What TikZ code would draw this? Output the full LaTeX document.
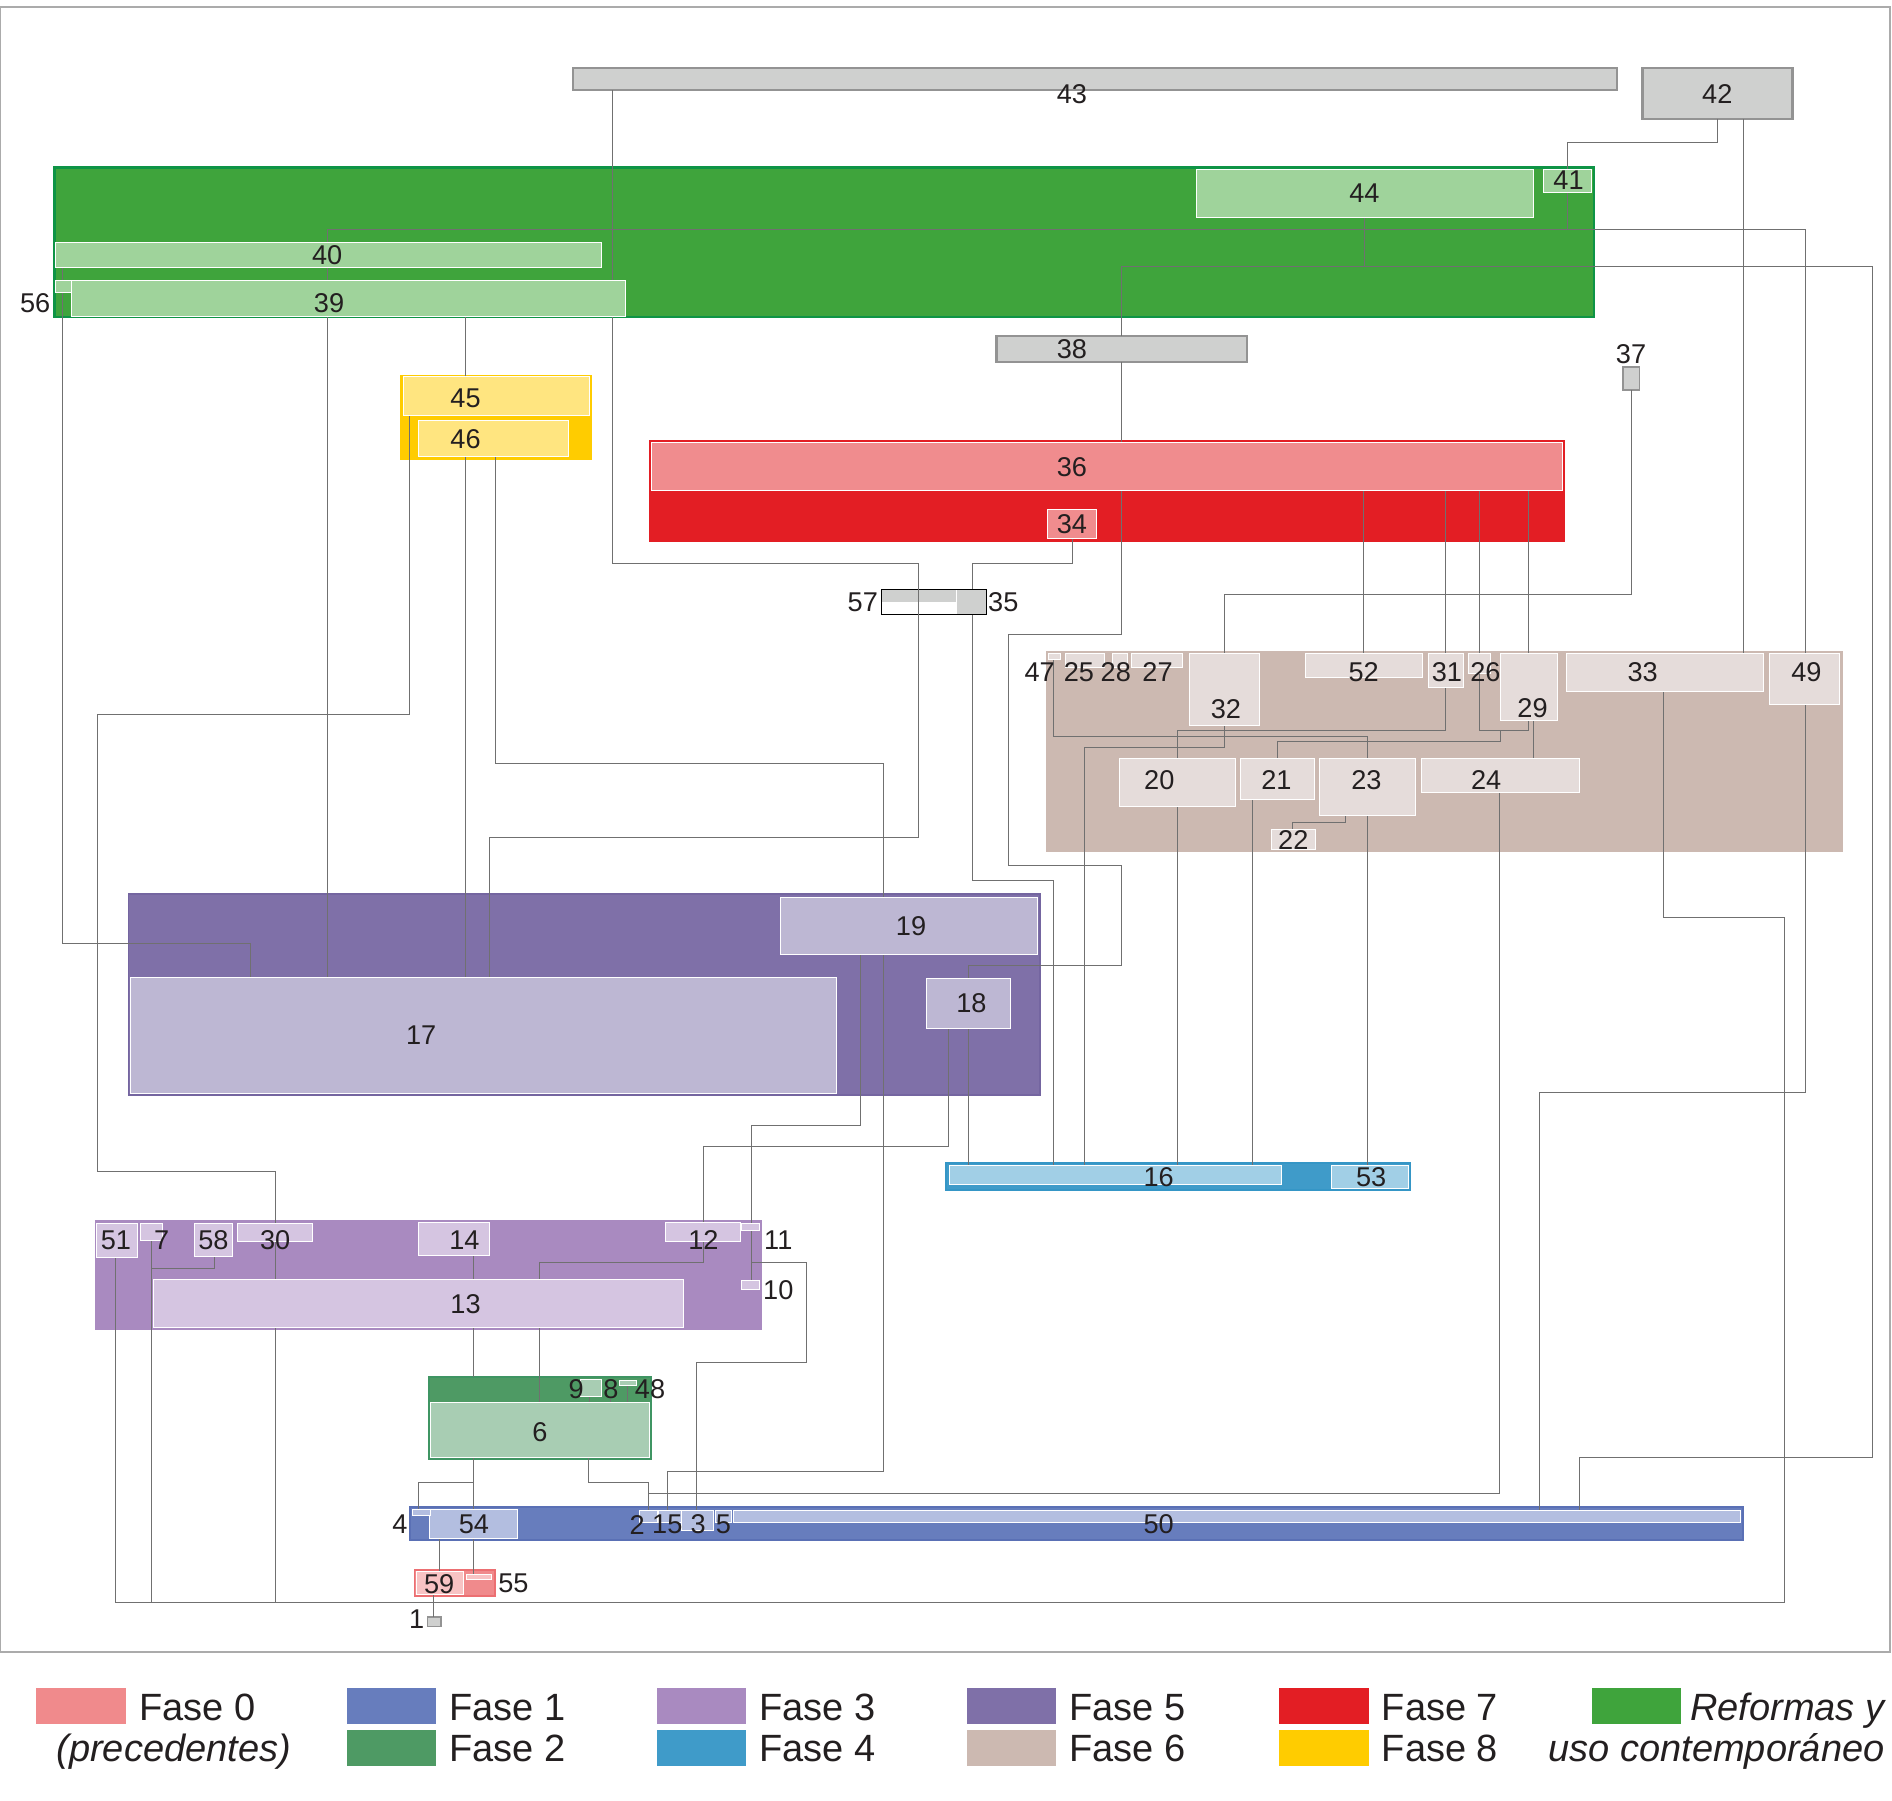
\documentclass[tikz,border=0pt]{standalone}
\usepackage{fontspec}
\setmainfont{Liberation Sans}
\pgfdeclarelayer{outer}
\pgfdeclarelayer{wires}
\pgfsetlayers{outer,wires,main}
\definecolor{cgray}{HTML}{CFD0CF}
\definecolor{cgrayd}{HTML}{939393}
\definecolor{cR}{HTML}{3FA43C}
\definecolor{cRd}{HTML}{0E9446}
\definecolor{cRl}{HTML}{9FD39B}
\definecolor{c8}{HTML}{FFCC00}
\definecolor{c8l}{HTML}{FFE580}
\definecolor{c7}{HTML}{E31E24}
\definecolor{c7l}{HTML}{F08C8E}
\definecolor{c6}{HTML}{CCB9B1}
\definecolor{c6l}{HTML}{E5DCDA}
\definecolor{c5}{HTML}{7F70A8}
\definecolor{c5d}{HTML}{7465A0}
\definecolor{c5l}{HTML}{BDB7D3}
\definecolor{c4}{HTML}{3F9BC9}
\definecolor{c4d}{HTML}{3596C6}
\definecolor{c4l}{HTML}{A1CFE6}
\definecolor{c3}{HTML}{A98AC0}
\definecolor{c3l}{HTML}{D5C5E1}
\definecolor{c2}{HTML}{4E9A64}
\definecolor{c2d}{HTML}{3F9563}
\definecolor{c2l}{HTML}{A8CDB3}
\definecolor{c1}{HTML}{677DBD}
\definecolor{c1d}{HTML}{5A70B5}
\definecolor{c1l}{HTML}{B3BEE0}
\definecolor{c0}{HTML}{F08A8C}
\definecolor{c0d}{HTML}{EC6F72}
\definecolor{c0l}{HTML}{F8C3C4}
\definecolor{cline}{HTML}{707070}
\definecolor{cframe}{HTML}{ABABAB}
\definecolor{ctext}{HTML}{231F20}
\newcommand\lblfont{\fontsize{22.5}{22.5}\selectfont}
\newcommand\legfont{\fontsize{31.5}{31.5}\selectfont}
\newcommand\bx[6]{\node[bxs,#6,minimum width={(#4-#2)*1pt},minimum height={(#5-#3)*1pt}] (#1) at (#2,#3) {};}
\begin{document}
\begin{tikzpicture}[x=1pt,y=-1pt,
  bxs/.style={rectangle,anchor=north west,inner sep=0pt,outer sep=0pt},
  graybox/.style={fill=cgray,draw=cgrayd,line width=2pt},
  inbox/.style={fill=#1,draw=white,line width=0.7pt},
  con/.style={draw=cline,line width=0.8pt},
  lbl/.style={font=\lblfont,text=ctext,inner sep=0pt},
  legsq/.style={rectangle,anchor=north west,inner sep=0pt,minimum width=74pt,minimum height=30pt,draw=none},
  legtx/.style={font=\legfont,text=ctext,inner sep=0pt,anchor=base west}]
\useasboundingbox (0,0) rectangle (1568,1492);
\begin{pgfonlayer}{outer}
\fill[white] (0,0) rectangle (1568,1492);
\draw[draw=cframe,line width=1.2pt] (0.6,5.7) rectangle (1566.4,1369);
% gray (undated) units
\bx{n43}{474.7}{56.5}{1340}{74.6}{graybox}
\bx{n42}{1361.3}{56.5}{1485.6}{98.4}{graybox}
\bx{n38}{825.9}{278.5}{1033.2}{300}{graybox}
\bx{n37}{1345.1}{304.2}{1358.7}{323}{graybox,line width=1.5pt}
\bx{n1}{354}{1340}{365.5}{1348}{graybox,line width=1pt}
\bx{n57}{730.7}{488.4}{792.3}{498.7}{fill=cgray}
\bx{n35}{793.4}{488.4}{817.7}{509.4}{fill=cgray}
\bx{n5735}{730.7}{488.4}{817.7}{509.4}{draw=black,line width=0.8pt}
% phase containers
\bx{RF}{45.2}{138.8}{1321}{262.9}{fill=cR,draw=cRd,line width=2pt}
\bx{F8}{332.5}{311.2}{489.7}{380.1}{fill=c8,draw=c8,line width=1.5pt}
\bx{F7}{538.5}{365.2}{1296.4}{448.4}{fill=c7,draw=c7,line width=1.5pt}
\bx{F6}{867.2}{539.6}{1527.3}{706.2}{fill=c6}
\bx{F5}{106.5}{741}{862}{907.5}{fill=c5,draw=c5d,line width=1.5pt}
\bx{F4}{784}{963.9}{1169}{985.9}{fill=c4,draw=c4d,line width=1.5pt}
\bx{F3}{78.8}{1011}{631.5}{1101.9}{fill=c3}
\bx{F2}{355.6}{1141}{539.3}{1209}{fill=c2,draw=c2d,line width=2pt}
\bx{F1}{339.8}{1248.7}{1444.5}{1276.3}{fill=c1,draw=c1d,line width=1.5pt}
\bx{F0}{343.4}{1301.2}{410.3}{1322.7}{fill=c0,draw=c0d,line width=1pt}
\end{pgfonlayer}
% inner units
\bx{n44}{991.4}{140.3}{1270.7}{180.4}{inbox=cRl}
\bx{n41}{1278.7}{140.3}{1319}{159.7}{inbox=cRl}
\bx{n40}{46.2}{200.7}{498.3}{221.3}{inbox=cRl}
\bx{n39}{59.3}{232.7}{518.4}{262}{inbox=cRl}
\bx{n56}{46.2}{232.7}{59.3}{242}{inbox=cRl}
\bx{n45}{334}{312.1}{488.3}{344.5}{inbox=c8l}
\bx{n46}{346.6}{348.3}{471.2}{377.9}{inbox=c8l}
\bx{n36}{540}{366.5}{1295}{406.4}{inbox=c7l}
\bx{n34}{868.2}{422.3}{908.8}{446.1}{inbox=c7l}
\bx{n47}{868.5}{541.5}{878.8}{546.4}{inbox=c6l}
\bx{n25}{883.2}{541.5}{915.5}{553}{inbox=c6l}
\bx{n28}{921.6}{541.5}{934.7}{553}{inbox=c6l}
\bx{n27}{937.7}{541.5}{980.3}{553}{inbox=c6l}
\bx{n32}{985.7}{541.5}{1043.7}{600.9}{inbox=c6l}
\bx{n52}{1081.6}{541.5}{1179.2}{561.6}{inbox=c6l}
\bx{n31}{1183.7}{541.5}{1212.4}{570}{inbox=c6l}
\bx{n26}{1216.8}{541.5}{1235.4}{558.3}{inbox=c6l}
\bx{n29}{1243.5}{541.5}{1290.8}{596.7}{inbox=c6l}
\bx{n33}{1298.4}{541.7}{1461.4}{573}{inbox=c6l}
\bx{n49}{1466.4}{541.7}{1524.8}{584}{inbox=c6l}
\bx{n20}{927.3}{628.5}{1023.9}{668.6}{inbox=c6l}
\bx{n21}{1028}{628.5}{1089.5}{662.5}{inbox=c6l}
\bx{n23}{1093.4}{628.5}{1173.3}{676}{inbox=c6l}
\bx{n24}{1177.6}{628.4}{1309}{656.5}{inbox=c6l}
\bx{n22}{1053.4}{687.3}{1089.8}{703.9}{inbox=c6l}
\bx{n19}{647}{743.8}{859.5}{791.2}{inbox=c5l}
\bx{n17}{108}{809.7}{693.2}{905.8}{inbox=c5l}
\bx{n18}{768}{810.5}{837}{852}{inbox=c5l}
\bx{n16}{786.5}{965.8}{1061.7}{981.7}{inbox=c4l}
\bx{n53}{1103.6}{965.8}{1167.5}{984.6}{inbox=c4l}
\bx{n51}{80.1}{1013.9}{113.8}{1042}{inbox=c3l}
\bx{n7}{116}{1014}{135}{1028}{inbox=c3l}
\bx{n58}{161.3}{1014}{192.5}{1041.4}{inbox=c3l}
\bx{n30}{196.7}{1014}{258.9}{1028.5}{inbox=c3l}
\bx{n14}{346.6}{1013.3}{405.9}{1040.8}{inbox=c3l}
\bx{n12}{551.1}{1013.3}{613.3}{1029}{inbox=c3l}
\bx{n11}{614.7}{1013.9}{629.3}{1020}{inbox=c3l}
\bx{n10}{614.7}{1060.8}{629.3}{1068.6}{inbox=c3l}
\bx{n13}{127}{1060.3}{566.6}{1099.8}{inbox=c3l}
\bx{n6}{357}{1162.5}{538}{1208}{inbox=c2l}
\bx{n9}{480.7}{1143}{498.7}{1157.5}{inbox=c2l}
\bx{n48}{513.3}{1143.7}{527.1}{1147.9}{inbox=c2l}
\bx{n50}{607.8}{1251.5}{1442.5}{1261.6}{inbox=c1l}
\bx{n54}{355.8}{1250.7}{429}{1274.7}{inbox=c1l}
\bx{n4}{341.7}{1250.7}{356.4}{1256}{inbox=c1l}
\bx{n2}{530}{1251.5}{545}{1262}{inbox=c1l}
\bx{n15}{546}{1251.5}{565}{1262}{inbox=c1l}
\bx{n3}{565}{1251.5}{591}{1268}{inbox=c1l}
\bx{n5}{593}{1251.5}{606}{1262}{inbox=c1l}
\bx{n59}{344.8}{1302.5}{383.8}{1321.5}{inbox=c0l}
\bx{n55}{386.2}{1304.5}{407.5}{1308.7}{inbox=c0l}
% labels
\node[lbl] (l43) at (888.3,78) {43};
\node[lbl] (l42) at (1423.2,77.8) {42};
\node[lbl] (l44) at (1130.8,160.4) {44};
\node[lbl] (l41) at (1299.9,149.3) {41};
\node[lbl] (l40) at (271.2,211.2) {40};
\node[lbl] (l39) at (272.7,250.9) {39};
\node[lbl] (l56) at (29.1,250.9) {56};
\node[lbl] (l38) at (888.3,289.6) {38};
\node[lbl] (l37) at (1351.7,293.7) {37};
\node[lbl] (l45) at (385.8,330.2) {45};
\node[lbl] (l46) at (385.8,364.2) {46};
\node[lbl] (l36) at (888.3,386.8) {36};
\node[lbl] (l34) at (888.3,434.4) {34};
\node[lbl] (l57) at (715,499) {57};
\node[lbl] (l35) at (831.5,499) {35};
\node[lbl] (l47) at (861.6,557.2) {47};
\node[lbl] (l25) at (894.2,557.2) {25};
\node[lbl] (l28) at (924.7,557.2) {28};
\node[lbl] (l27) at (959.3,557.2) {27};
\node[lbl] (l32) at (1016,587.6) {32};
\node[lbl] (l52) at (1130.1,557.2) {52};
\node[lbl] (l31) at (1199.1,557.2) {31};
\node[lbl] (l26) at (1231,557.2) {26};
\node[lbl] (l29) at (1270.1,587) {29};
\node[lbl] (l33) at (1361.3,557.4) {33};
\node[lbl] (l49) at (1497.1,557) {49};
\node[lbl] (l20) at (960.8,646.4) {20};
\node[lbl] (l21) at (1057.8,646.4) {21};
\node[lbl] (l23) at (1132.4,646.4) {23};
\node[lbl] (l24) at (1231.6,646.4) {24};
\node[lbl] (l22) at (1071.8,696.2) {22};
\node[lbl] (l19) at (755,767.5) {19};
\node[lbl] (l17) at (349,857.8) {17};
\node[lbl] (l18) at (805,831.2) {18};
\node[lbl] (l16) at (960.2,975.5) {16};
\node[lbl] (l53) at (1136.3,975.5) {53};
\node[lbl] (l51) at (96.1,1027.7) {51};
\node[lbl] (l7) at (134,1027.7) {7};
\node[lbl] (l58) at (176.9,1027.7) {58};
\node[lbl] (l30) at (228,1027.7) {30};
\node[lbl] (l14) at (384.9,1027.7) {14};
\node[lbl] (l12) at (583,1027.5) {12};
\node[lbl] (l11) at (645,1027.5) {11};
\node[lbl] (l10) at (645,1069.5) {10};
\node[lbl] (l13) at (385.8,1081) {13};
\node[lbl] (l9) at (477.4,1151.5) {9};
\node[lbl] (l8) at (506.4,1151.5) {8};
\node[lbl] (l48) at (538.7,1151.5) {48};
\node[lbl] (l6) at (447.5,1186.5) {6};
\node[lbl] (l4) at (331.5,1263.5) {4};
\node[lbl] (l54) at (392.8,1263.5) {54};
\node[lbl] (l2) at (528,1263.5) {2};
\node[lbl] (l15) at (553,1263.5) {15};
\node[lbl] (l3) at (578.6,1263.5) {3};
\node[lbl] (l5) at (599.5,1263.5) {5};
\node[lbl] (l50) at (960.2,1263) {50};
\node[lbl] (l59) at (364,1312.5) {59};
\node[lbl] (l55) at (425.5,1312.5) {55};
\node[lbl] (l1) at (345.3,1341.5) {1};
\coordinate (bl) at (95.5,1328);
\coordinate (br) at (1479,1328);
\coordinate (j11) at (622.6,1046.5);
\coordinate (j26) at (1243.5,605.6);
% connectors
\begin{pgfonlayer}{wires}
\draw[con] (n43.south -| 508,0) |- (761,467) -- (761,694) -| (n17.north -| 406,0);
\draw[con] (n34.south) |- (806,467) -- (n35.north -| 806,0);
\draw[con] (n35.south -| 806,0) |- (873,730) -- (n16.north -| 873,0);
\draw[con] (n44.south) -- (n44.south |- 0,221);
\draw[con] (n38.north -| 929.5,0) |- (1551.5,221) |- (1309,1208) -- (n50.north -| 1309,0);
\draw[con] (n38.south -| 929.5,0) -- (n36.north -| 929.5,0);
\draw[con] (n36.south -| 929.5,0) |- (836,526) |- (929.5,717) |- (803,800) -- (n18.north -| 803,0);
\draw[con] (n18.south -| 803,0) -- (n16.north -| 803,0);
\draw[con] (n42.south) -- (n42.south |- 0,118) -| (n41.north);
\draw[con] (n41.south) -- (n41.south |- 0,190.5);
\draw[con] (n17.north -| 271,0) |- (1496.1,190.5) -- (n49.north -| 1496.1,0);
\draw[con] (n49.south -| 1496.1,0) |- (1276,905) -- (n50.north -| 1276,0);
\draw[con] (n42.south -| 1444.8,0) -- (n33.north -| 1444.8,0);
\draw[con] (n39.south -| 385.8,0) -- (n45.north -| 385.8,0);
\draw[con] (n46.south -| 385.8,0) -- (n17.north -| 385.8,0);
\draw[con] (n45.south -| 339.6,0) |- (81,592) |- (228,971) -- (n30.north -| 228,0);
\draw[con] (n30.south -| 228,0) -- (n13.north -| 228,0);
\draw[con] (n13.south -| 228,0) -- (bl -| 228,0);
\draw[con] (n51.south -| 95.5,0) -- (bl) -- (br) |- (1379,760) -- (n33.south -| 1379,0);
\draw[con] (n7.south -| 125.7,0) -- (bl -| 125.7,0);
\draw[con] (n58.south -| 177.5,0) |- (125.7,1051.5);
\draw[con] (n46.south -| 411,0) |- (732,632.6) -- (n19.north -| 732,0);
\draw[con] (n19.south -| 732,0) |- (553.5,1219.5) -- (n15.north -| 553.5,0);
\draw[con] (n19.south -| 713,0) |- (622.6,933) -- (n11.north -| 622.6,0);
\draw[con] (n11.south -| 622.6,0) -- (n10.north -| 622.6,0);
\draw[con] (j11) -| (668,1129) -| (n3.north -| 577.6,0);
\draw[con] (n18.south -| 786,0) |- (582.6,950) -- (n12.north -| 582.6,0);
\draw[con] (n12.south -| 582.6,0) |- (447.5,1046) -- (n6.north -| 447.5,0);
\draw[con] (n14.south -| 392.8,0) -- (n13.north -| 392.8,0);
\draw[con] (n13.south -| 392.8,0) -- (F2.north -| 392.8,0);
\draw[con] (n6.south -| 392.6,0) -- (n54.north -| 392.6,0);
\draw[con] (n6.south -| 392.6,0) |- (347,1229) -- (n4.north -| 347,0);
\draw[con] (n54.south -| 392.6,0) -- (n55.north -| 392.6,0);
\draw[con] (n54.south -| 364,0) -- (n59.north -| 364,0);
\draw[con] (n59.south -| 359,0) -- (n1.north -| 359,0);
\draw[con] (n6.south -| 488,0) |- (537.5,1229) -- (n2.north -| 537.5,0);
\draw[con] (n24.south -| 1242.9,0) |- (n2.north |- 0,1237.3);
\draw[con] (n37.south) |- (1015,492.8) -- (n32.north -| 1015,0);
\draw[con] (n32.south -| 1015,0) |- (898.7,619.4) -- (n16.north -| 898.7,0);
\draw[con] (n36.south -| 1130.3,0) -- (n52.north -| 1130.3,0);
\draw[con] (n36.south -| 1197.8,0) -- (n31.north -| 1197.8,0);
\draw[con] (n36.south -| 1226.4,0) -- (n26.north -| 1226.4,0);
\draw[con] (n36.south -| 1267.1,0) -- (n29.north -| 1267.1,0);
\draw[con] (n31.south -| 1198,0) |- (975.6,605.3) -- (n20.north -| 975.6,0);
\draw[con] (n20.south -| 975.6,0) -- (n16.north -| 975.6,0);
\draw[con] (n47.south -| 872.9,0) |- (1133,610.5) -- (n23.north -| 1133,0);
\draw[con] (n23.south -| 1133,0) -- (n53.north -| 1133,0);
\draw[con] (n23.south -| 1115.3,0) |- (1071.2,681.8) -- (n22.north -| 1071.2,0);
\draw[con] (n26.south -| 1226.4,0) |- (1267.1,605.6) -- (n29.south -| 1267.1,0);
\draw[con] (j26) |- (1058.4,614.7) -- (n21.north -| 1058.4,0);
\draw[con] (n29.south -| 1271,0) -- (n24.north -| 1271,0);
\draw[con] (n21.south -| 1038,0) -- (n16.north -| 1038,0);
\draw[con] (n40.south -| 51.7,0) |- (207.5,781.5) -- (n17.north -| 207.5,0);
\draw[con] (n9.south -| 488.4,0) -- (n6.north -| 488.4,0);
\draw[con] (l8.south -| 505.6,0) -- (n6.north -| 505.6,0);
\draw[con] (n48.south -| 519.9,0) -- (n6.north -| 519.9,0);
\end{pgfonlayer}
% legend
\node[legsq,fill=c0] (q0) at (30,1398.7) {};
\node[legsq,fill=c1] (q1) at (287,1398.7) {};
\node[legsq,fill=c2] (q2) at (287,1433.2) {};
\node[legsq,fill=c3] (q3) at (544,1398.7) {};
\node[legsq,fill=c4] (q4) at (544,1433.2) {};
\node[legsq,fill=c5] (q5) at (801,1398.7) {};
\node[legsq,fill=c6] (q6) at (801,1433.2) {};
\node[legsq,fill=c7] (q7) at (1060,1398.7) {};
\node[legsq,fill=c8] (q8) at (1060,1433.2) {};
\node[legsq,fill=cR] (qR) at (1319,1398.7) {};
\node[legtx] (t0) at (115,1425.5) {Fase 0};
\node[legtx,anchor=base] (t0b) at (144,1460) {\itshape (precedentes)};
\node[legtx] (t1) at (372,1425.5) {Fase 1};
\node[legtx] (t2) at (372,1460) {Fase 2};
\node[legtx] (t3) at (629,1425.5) {Fase 3};
\node[legtx] (t4) at (629,1460) {Fase 4};
\node[legtx] (t5) at (886,1425.5) {Fase 5};
\node[legtx] (t6) at (886,1460) {Fase 6};
\node[legtx] (t7) at (1145,1425.5) {Fase 7};
\node[legtx] (t8) at (1145,1460) {Fase 8};
\node[legtx,anchor=base east] (tR) at (1562,1425.5) {\itshape Reformas y};
\node[legtx,anchor=base east] (tR2) at (1562,1460) {\itshape uso contemporáneo};
\end{tikzpicture}
\end{document}
